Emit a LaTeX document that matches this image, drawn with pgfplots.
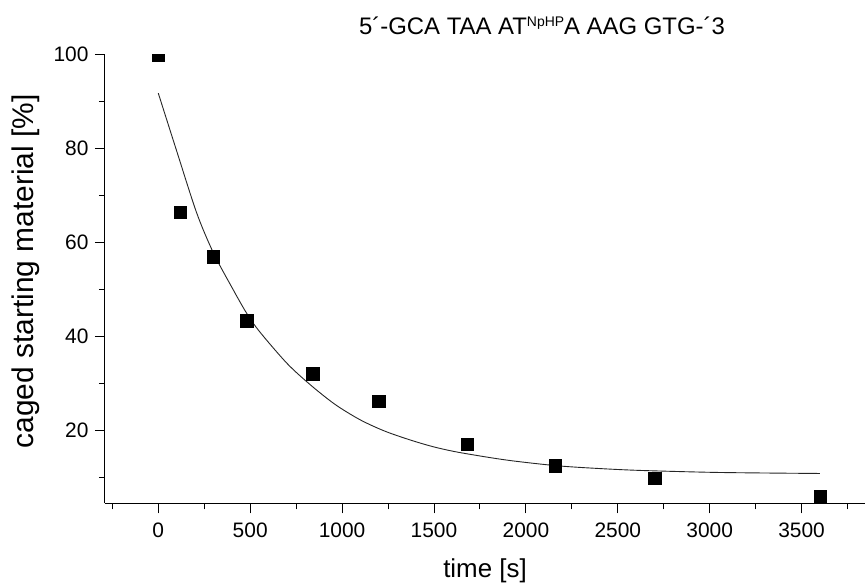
\documentclass[border=0pt]{standalone}
\usepackage{pgfplots}
\pgfplotsset{compat=1.18}
\usepackage{fontspec}
\setmainfont{Liberation Sans}
\begin{document}
\begin{tikzpicture}
\begin{axis}[
  scale only axis, width=760bp, height=448.6bp,
  xmin=-290, xmax=3845, ymin=4.5, ymax=100,
  axis x line=bottom, axis y line=left,
  axis line style={-, line width=1bp},
  clip marker paths=true,
  tick align=outside,
  major tick length=10bp, minor tick length=6bp,
  tick style={line width=1bp, black},
  xtick={0,500,...,3500}, minor xtick={-250,250,...,3750},
  ytick={20,40,...,100}, minor ytick={10,30,...,90},
  tick label style={font=\fontsize{21}{25}\selectfont},
  xticklabel style={yshift=-6bp},
  yticklabel style={xshift=-3bp},
  /pgf/number format/assume math mode=true,
  /pgf/number format/1000 sep={},
  xlabel={time [s]},
  ylabel={caged starting material [\%]},
  xlabel style={font=\fontsize{26}{30}\selectfont,
    at={([yshift=-74bp]axis description cs:0.5,0)}, anchor=base},
  ylabel style={font=\fontsize{30}{34}\selectfont,
    at={([xshift=-71.7bp]axis description cs:0,0.517)}, anchor=base},
  title={5´-GCA TAA AT\raisebox{8bp}{\fontsize{14}{14}\selectfont NpHP}A AAG GTG-´3},
  title style={font=\fontsize{24}{28}\selectfont,
    at={([yshift=14bp]axis description cs:0.575,1)}, anchor=base},
]
\coordinate (tl) at (rel axis cs:0,1);
\coordinate (br) at (rel axis cs:1,0);
% exponential fit
\addplot[smooth, line width=0.9bp, black!85] coordinates {
  (0,91.8) (100,79.5) (209,66.3) (300,57.8) (400,50.5) (480,45.0)
  (552,41.0) (700,34.3) (825,29.8) (960,25.6) (1097,22.3) (1230,19.9)
  (1369,18.0) (1500,16.5) (1641,15.3) (1896,13.7) (2168,12.5)
  (2400,11.9) (2621,11.5) (3000,11.1) (3300,10.95) (3600,10.85)
};
% measured points
\addplot[only marks, mark=square*, mark size=6.2bp, black] coordinates {
  (0,100) (120,66.5) (300,57) (480,43.4) (840,32.1) (1200,26.2)
  (1680,17.1) (2160,12.5) (2700,9.8) (3600,6.0)
};
\end{axis}
\pgfresetboundingbox
\path ([xshift=-105bp,yshift=54.7bp]tl) rectangle ([yshift=-84.7bp]br);
\end{tikzpicture}
\end{document}
